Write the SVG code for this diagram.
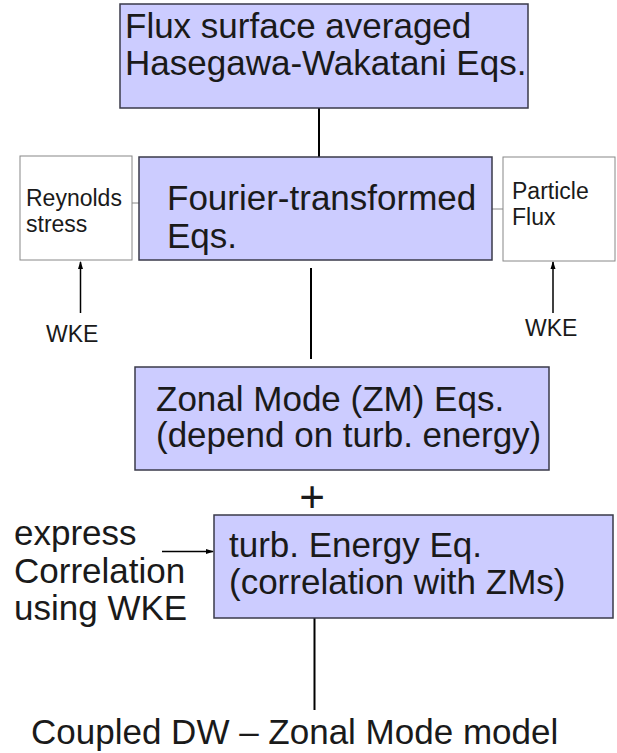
<svg xmlns="http://www.w3.org/2000/svg" width="617" height="753" viewBox="0 0 617 753">
<style>
text{font-family:"Liberation Sans",Arial,sans-serif;fill:#1a1a1a}
.big{font-size:35px}
.sm{font-size:23px}
.box{fill:#ccccff;stroke:#3a3a4a;stroke-width:1.5}
.side{fill:#ffffff;stroke:#888888;stroke-width:1}
.ln{stroke:#000;stroke-width:2;fill:none}
.thin{stroke:#888;stroke-width:1;fill:none}
.arr{stroke:#000;stroke-width:1.5;fill:none}
</style>
<defs>
<marker id="ah" markerWidth="8" markerHeight="8" refX="7" refY="4" orient="auto" markerUnits="userSpaceOnUse">
<path d="M0,1.5 L8,4 L0,6.5 Z" fill="#000"/>
</marker>
</defs>
<g id="connectors">
<line class="ln" x1="319" y1="108" x2="319" y2="157"/>
<line class="ln" x1="311" y1="268" x2="311" y2="359"/>
<line class="ln" x1="314.5" y1="618" x2="314.5" y2="710"/>
<line class="thin" x1="132" y1="203" x2="139" y2="203"/>
<line class="thin" x1="492" y1="209" x2="503" y2="209"/>
<line class="arr" x1="80.5" y1="313" x2="80.5" y2="262" marker-end="url(#ah)"/>
<line class="arr" x1="553" y1="313" x2="553" y2="262" marker-end="url(#ah)"/>
<line class="arr" x1="162" y1="551.5" x2="213" y2="551.5" marker-end="url(#ah)"/>
</g>
<g id="hw">
<rect class="box" x="120" y="4" width="408" height="104"/>
<text class="big" x="125" y="38">Flux surface averaged</text>
<text class="big" x="125" y="75">Hasegawa-Wakatani Eqs.</text>
</g>
<g id="fourier">
<rect class="box" x="139" y="157" width="353" height="103"/>
<text class="big" x="167" y="210">Fourier-transformed</text>
<text class="big" x="167" y="248">Eqs.</text>
</g>
<g id="reynolds">
<rect class="side" x="20" y="156" width="112" height="104"/>
<text class="sm" x="26" y="206">Reynolds</text>
<text class="sm" x="26" y="232">stress</text>
</g>
<g id="particle">
<rect class="side" x="503" y="157" width="112" height="104"/>
<text class="sm" x="512" y="199">Particle</text>
<text class="sm" x="512" y="225">Flux</text>
</g>
<g id="wke1">
<text class="sm" x="46" y="342">WKE</text>
</g>
<g id="wke2">
<text class="sm" x="525" y="336">WKE</text>
</g>
<g id="zonal">
<rect class="box" x="135" y="367" width="414" height="103"/>
<text class="big" x="156" y="411">Zonal Mode (ZM) Eqs.</text>
<text class="big" x="156" y="447">(depend on turb. energy)</text>
</g>
<g id="plus">
<text x="312" y="512" text-anchor="middle" font-size="44">+</text>
</g>
<g id="turb">
<rect class="box" x="214" y="515" width="399" height="103"/>
<text class="big" x="229" y="557">turb. Energy Eq.</text>
<text class="big" x="229" y="594">(correlation with ZMs)</text>
</g>
<g id="express">
<text class="big" x="14" y="545">express</text>
<text class="big" x="14" y="583">Correlation</text>
<text class="big" x="14" y="620">using WKE</text>
</g>
<g id="coupled">
<text class="big" x="31" y="744">Coupled DW – Zonal Mode model</text>
</g>
</svg>
